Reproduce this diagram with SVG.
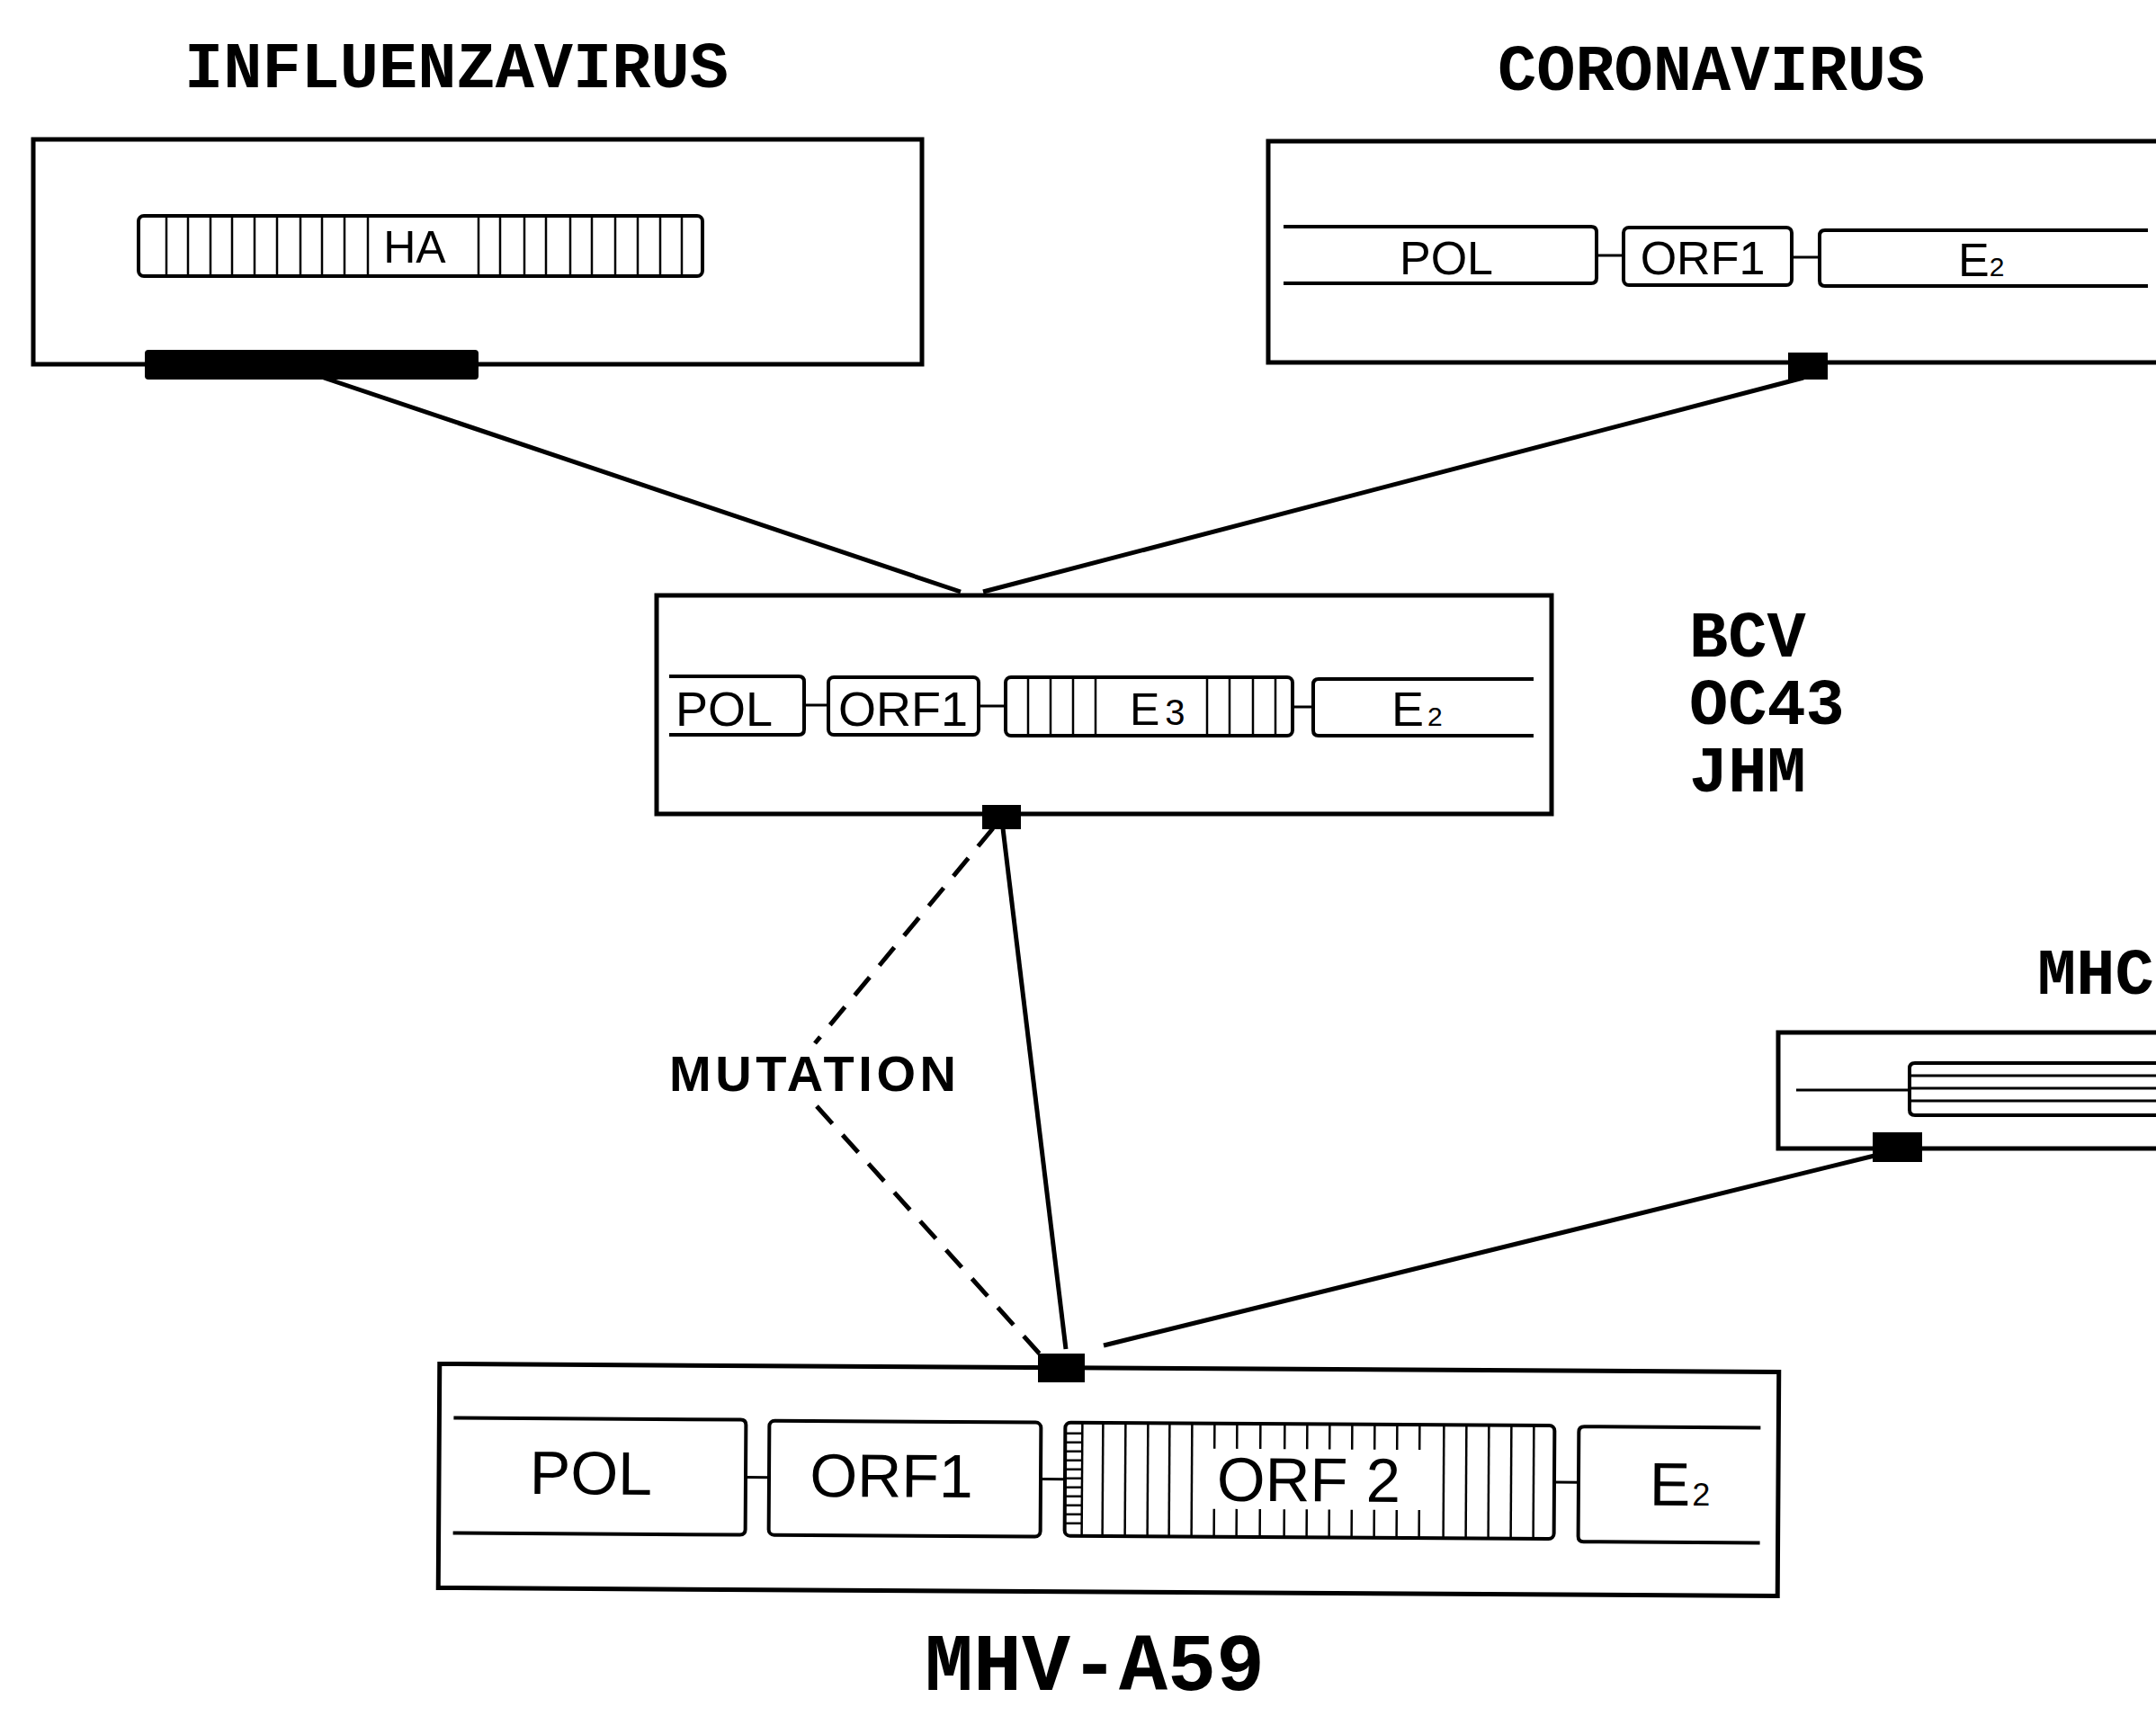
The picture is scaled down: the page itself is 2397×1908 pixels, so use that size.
<svg xmlns="http://www.w3.org/2000/svg" width="2397" height="1908" viewBox="0 0 2397 1908">
<style>
.box{fill:none;stroke:#000;stroke-width:5}
.gene{fill:#fff;stroke:#000;stroke-width:4;stroke-linejoin:round}
.open{fill:none;stroke:#000;stroke-width:4;stroke-linejoin:round}
.conn{stroke:#000;stroke-width:3}
.stripe{stroke:#000;stroke-width:2.5}
.link{stroke:#000;stroke-width:5;fill:none}
.dash{stroke:#000;stroke-width:5;fill:none;stroke-dasharray:26 17}
.title{font-family:"Liberation Mono","DejaVu Sans Mono",monospace;font-weight:bold;font-size:72px;fill:#000}
.lbl{font-family:"Liberation Sans",Arial,sans-serif;fill:#000}
</style>
<rect width="2397" height="1908" fill="#fff"/>

<g id="influenzavirus">
  <text class="title" x="205" y="97">INFLUENZAVIRUS</text>
  <rect class="box" x="37" y="155" width="988" height="250"/>
  <rect class="gene" x="154" y="240" width="627" height="67" rx="6"/>
  <g class="stripe">
    <line x1="185" y1="240" x2="185" y2="307"/><line x1="209" y1="240" x2="209" y2="307"/>
    <line x1="234" y1="240" x2="234" y2="307"/><line x1="258" y1="240" x2="258" y2="307"/>
    <line x1="283" y1="240" x2="283" y2="307"/><line x1="308" y1="240" x2="308" y2="307"/>
    <line x1="334" y1="240" x2="334" y2="307"/><line x1="358" y1="240" x2="358" y2="307"/>
    <line x1="383" y1="240" x2="383" y2="307"/><line x1="409" y1="240" x2="409" y2="307"/>
    <line x1="532" y1="240" x2="532" y2="307"/><line x1="556" y1="240" x2="556" y2="307"/>
    <line x1="583" y1="240" x2="583" y2="307"/><line x1="607" y1="240" x2="607" y2="307"/>
    <line x1="634" y1="240" x2="634" y2="307"/><line x1="658" y1="240" x2="658" y2="307"/>
    <line x1="684" y1="240" x2="684" y2="307"/><line x1="709" y1="240" x2="709" y2="307"/>
    <line x1="734" y1="240" x2="734" y2="307"/><line x1="758" y1="240" x2="758" y2="307"/>
  </g>
  <text class="lbl" x="461" y="292" font-size="50" text-anchor="middle">HA</text>
  <rect x="161" y="389" width="371" height="33" rx="4" fill="#000"/>
</g>

<g id="coronavirus">
  <text class="title" x="1665" y="100">CORONAVIRUS</text>
  <rect class="box" x="1410" y="157" width="1030" height="246"/>
  <path class="open" d="M1427,252 H1769 Q1775,252 1775,258 V309 Q1775,315 1769,315 H1427"/>
  <line class="conn" x1="1775" y1="284" x2="1805" y2="284"/>
  <rect class="gene" x="1805" y="253" width="187" height="64" rx="6"/>
  <line class="conn" x1="1992" y1="286" x2="2023" y2="286"/>
  <path class="open" d="M2388,256 H2029 Q2023,256 2023,262 V312 Q2023,318 2029,318 H2388"/>
  <text class="lbl" x="1608" y="305" font-size="52" text-anchor="middle">POL</text>
  <text class="lbl" x="1893" y="305" font-size="52" text-anchor="middle">ORF1</text>
  <text class="lbl" x="2177" y="307" font-size="52">E<tspan font-size="30">2</tspan></text>
  <rect x="1988" y="392" width="44" height="30" fill="#000"/>
</g>

<g id="bcv">
  <rect class="box" x="730" y="662" width="995" height="243"/>
  <path class="open" d="M744,752 H888 Q894,752 894,758 V811 Q894,817 888,817 H744"/>
  <line class="conn" x1="894" y1="784" x2="921" y2="784"/>
  <rect class="gene" x="921" y="753" width="167" height="64" rx="6"/>
  <line class="conn" x1="1088" y1="785" x2="1118" y2="785"/>
  <rect class="gene" x="1118" y="753" width="319" height="65" rx="6"/>
  <g class="stripe">
    <line x1="1143" y1="753" x2="1143" y2="818"/><line x1="1168" y1="753" x2="1168" y2="818"/>
    <line x1="1193" y1="753" x2="1193" y2="818"/><line x1="1218" y1="753" x2="1218" y2="818"/>
    <line x1="1342" y1="753" x2="1342" y2="818"/><line x1="1367" y1="753" x2="1367" y2="818"/>
    <line x1="1393" y1="753" x2="1393" y2="818"/><line x1="1418" y1="753" x2="1418" y2="818"/>
  </g>
  <line class="conn" x1="1437" y1="786" x2="1460" y2="786"/>
  <path class="open" d="M1705,755 H1466 Q1460,755 1460,761 V812 Q1460,818 1466,818 H1705"/>
  <text class="lbl" x="805" y="807" font-size="54" text-anchor="middle">POL</text>
  <text class="lbl" x="1004" y="807" font-size="54" text-anchor="middle">ORF1</text>
  <text class="lbl" x="1256" y="806" font-size="50">E<tspan dx="6" font-size="40">3</tspan></text>
  <text class="lbl" x="1547" y="807" font-size="54">E<tspan dx="4" font-size="30">2</tspan></text>
  <rect x="1092" y="895" width="43" height="27" fill="#000"/>
  <text class="title" x="1878" y="730">BCV</text>
  <text class="title" x="1878" y="805">OC43</text>
  <text class="title" x="1878" y="880">JHM</text>
</g>

<g id="mhc">
  <text class="title" x="2265" y="1105">MHC</text>
  <rect class="box" x="1977" y="1148" width="470" height="129"/>
  <line class="conn" x1="1997" y1="1212" x2="2123" y2="1212"/>
  <path class="open" d="M2440,1182 H2129 Q2123,1182 2123,1188 V1234 Q2123,1240 2129,1240 H2440"/>
  <g class="conn">
    <line x1="2123" y1="1196" x2="2440" y2="1196"/>
    <line x1="2123" y1="1210" x2="2440" y2="1210"/>
    <line x1="2123" y1="1224" x2="2440" y2="1224"/>
  </g>
  <rect x="2082" y="1259" width="55" height="33" fill="#000"/>
</g>

<g id="mhv-a59">
  <g transform="rotate(0.35 1232 1645)">
    <rect class="box" x="488" y="1521" width="1489" height="249"/>
    <path class="open" d="M504,1581 H823 Q829,1581 829,1587 V1703 Q829,1709 823,1709 H504"/>
    <line class="conn" x1="829" y1="1645" x2="855" y2="1645"/>
    <rect class="gene" x="855" y="1582" width="302" height="127" rx="6"/>
    <line class="conn" x1="1157" y1="1645" x2="1184" y2="1645"/>
    <rect class="gene" x="1184" y="1582" width="544" height="126" rx="6"/>
    <g class="stripe">
      <line x1="1203" y1="1582" x2="1203" y2="1708"/>
      <line x1="1184" y1="1594" x2="1203" y2="1594"/><line x1="1184" y1="1604" x2="1203" y2="1604"/>
      <line x1="1184" y1="1614" x2="1203" y2="1614"/><line x1="1184" y1="1624" x2="1203" y2="1624"/>
      <line x1="1184" y1="1634" x2="1203" y2="1634"/><line x1="1184" y1="1644" x2="1203" y2="1644"/>
      <line x1="1184" y1="1654" x2="1203" y2="1654"/><line x1="1184" y1="1664" x2="1203" y2="1664"/>
      <line x1="1184" y1="1674" x2="1203" y2="1674"/><line x1="1184" y1="1684" x2="1203" y2="1684"/>
      <line x1="1184" y1="1694" x2="1203" y2="1694"/>
      <line x1="1226" y1="1582" x2="1226" y2="1708"/><line x1="1251" y1="1582" x2="1251" y2="1708"/>
      <line x1="1276" y1="1582" x2="1276" y2="1708"/><line x1="1300" y1="1582" x2="1300" y2="1708"/>
      <line x1="1325" y1="1582" x2="1325" y2="1708"/>
      <line x1="1605" y1="1582" x2="1605" y2="1708"/><line x1="1630" y1="1582" x2="1630" y2="1708"/>
      <line x1="1655" y1="1582" x2="1655" y2="1708"/><line x1="1680" y1="1582" x2="1680" y2="1708"/>
      <line x1="1705" y1="1582" x2="1705" y2="1708"/>
      <path d="M1350,1582 V1610 M1375,1582 V1610 M1401,1582 V1610 M1428,1582 V1610 M1453,1582 V1610 M1478,1582 V1610 M1503,1582 V1610 M1528,1582 V1610 M1553,1582 V1610 M1578,1582 V1610"/>
      <path d="M1350,1677 V1708 M1375,1677 V1708 M1401,1677 V1708 M1428,1677 V1708 M1453,1677 V1708 M1478,1677 V1708 M1503,1677 V1708 M1528,1677 V1708 M1553,1677 V1708 M1578,1677 V1708"/>
    </g>
    <line class="conn" x1="1728" y1="1645" x2="1755" y2="1645"/>
    <path class="open" d="M1957,1583 H1761 Q1755,1583 1755,1589 V1705 Q1755,1711 1761,1711 H1957"/>
    <text class="lbl" x="657" y="1665" font-size="68" text-anchor="middle">POL</text>
    <text class="lbl" x="991" y="1666" font-size="68" text-anchor="middle">ORF1</text>
    <text class="lbl" x="1353" y="1668" font-size="69">ORF<tspan dx="20">2</tspan></text>
    <text class="lbl" x="1834" y="1670" font-size="68">E<tspan dx="2" font-size="36">2</tspan></text>
  </g>
  <rect x="1154" y="1505" width="52" height="32" fill="#000"/>
  <text class="title" x="1217" y="1879" text-anchor="middle" style="font-size:90px">MHV-A59</text>
</g>

<g id="connectors">
  <line class="link" x1="360" y1="420" x2="1068" y2="658"/>
  <line class="link" x1="2005" y1="420" x2="1093" y2="658"/>
  <line class="link" x1="1115" y1="921" x2="1185" y2="1500"/>
  <line class="dash" x1="1104" y1="921" x2="906" y2="1160"/>
  <line class="dash" x1="908" y1="1230" x2="1160" y2="1510"/>
  <line class="link" x1="1227" y1="1496" x2="2088" y2="1284"/>
  <text class="lbl" x="744" y="1213" font-size="56" font-weight="bold" textLength="319" lengthAdjust="spacing">MUTATION</text>
</g>
</svg>
